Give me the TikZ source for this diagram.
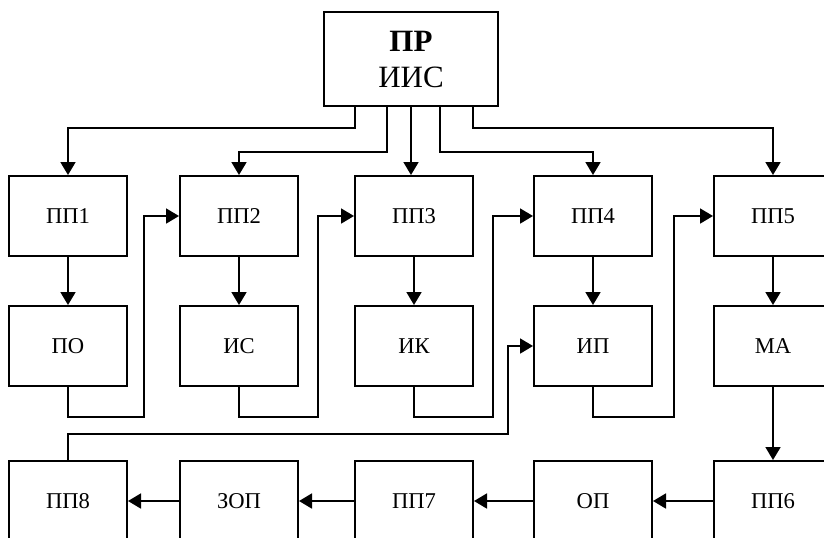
\documentclass[tikz,border=0pt]{standalone}
\usepackage{fontspec}
\setmainfont{Liberation Serif}
\usetikzlibrary{arrows.meta}

\begin{document}
\begin{tikzpicture}[x=0.5pt, y=-0.5pt, font=\fontsize{11.3}{13.5}\selectfont,
   blk/.style={draw, line width=1pt, minimum width=59pt, minimum height=40pt, inner sep=0pt},
   ln/.style={line width=0.9pt},
   arr/.style={ln, -{Triangle[length=6.5pt, width=7.5pt]}}]
  \useasboundingbox (0,0) rectangle (824,537);
  \clip (0,0) rectangle (824,537);
  \node[blk, minimum width=87pt, minimum height=47pt, align=center,
        font=\fontsize{15.5}{18}\selectfont] (pr) at (411,59)
     {\textbf{ПР}\\ИИС};
  \node[blk] (pp1) at (68,216) {ПП1};  \node[blk] (pp2) at (239,216) {ПП2};
  \node[blk] (pp3) at (414,216) {ПП3}; \node[blk] (pp4) at (593,216) {ПП4};
  \node[blk] (pp5) at (773,216) {ПП5};
  \node[blk] (po) at (68,346) {ПО};    \node[blk] (is) at (239,346) {ИС};
  \node[blk] (ik) at (414,346) {ИК};   \node[blk] (ip) at (593,346) {ИП};
  \node[blk] (ma) at (773,346) {МА};
  \node[blk] (pp8) at (68,501) {ПП8};  \node[blk] (zop) at (239,501) {ЗОП};
  \node[blk] (pp7) at (414,501) {ПП7}; \node[blk] (op) at (593,501) {ОП};
  \node[blk] (pp6) at (773,501) {ПП6};
  % from the top block
  \draw[arr] ([xshift=-28pt]pr.south) -- ++(0,21) -| (pp1.north);
  \draw[arr] ([xshift=-12pt]pr.south) -- ++(0,45) -| (pp2.north);
  \draw[arr] (pr.south) -- (pr.south |- pp3.north);
  \draw[arr] ([xshift=14.5pt]pr.south) -- ++(0,45) -| (pp4.north);
  \draw[arr] ([xshift=31pt]pr.south) -- ++(0,21) -| (pp5.north);
  \foreach \s/\t in {pp1/po, pp2/is, pp3/ik, pp4/ip, pp5/ma, ma/pp6}
     \draw[arr] (\s) -- (\t);
  % loops to the next column
  \foreach \s/\t/\d in {po/pp2/76, is/pp3/79, ik/pp4/79, ip/pp5/81}
     \draw[arr] (\s.south) |- ++(\d,30) |- (\t.west);
  \draw[arr] (pp8.north) |- ++(440,-26) |- (ip.west);
  \foreach \s/\t in {pp6/op, op/pp7, pp7/zop, zop/pp8}
     \draw[arr] (\s) -- (\t);
\end{tikzpicture}
\end{document}
